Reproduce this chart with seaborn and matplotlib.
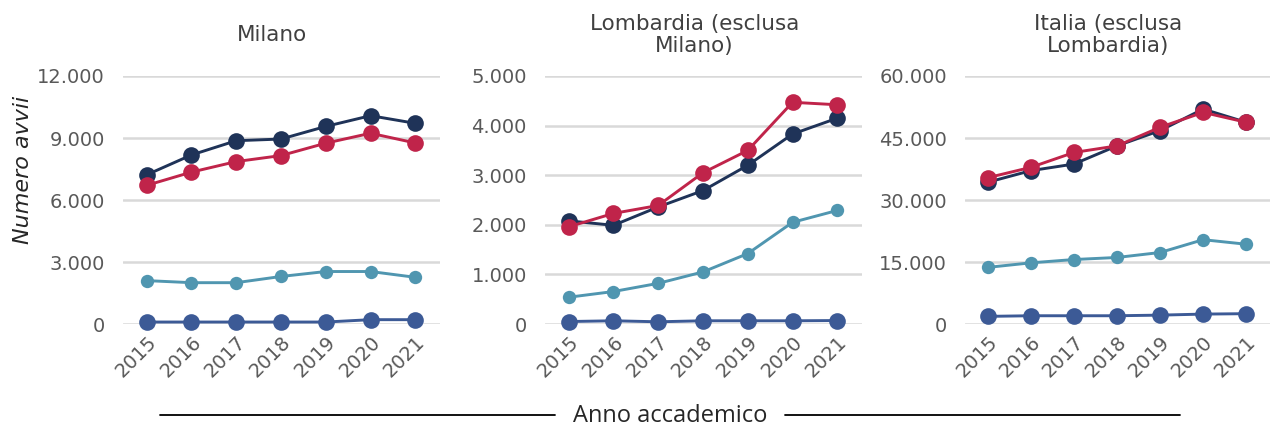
"""
avvii_plot.py
Numero avvii per anno accademico: Milano, Lombardia, Italia.
"""

import pandas as pd
import seaborn as sns
import matplotlib.pyplot as plt
from matplotlib.lines import Line2D
from matplotlib.ticker import FuncFormatter

years = [2015, 2016, 2017, 2018, 2019, 2020, 2021]
series = ["s1", "s2", "s3", "s4"]

milano_s1 = [7220, 8180, 8870, 8950, 9560, 10080, 9710]
milano_s2 = [6710, 7350, 7860, 8150, 8750, 9230, 8760]
milano_s3 = [2100, 2000, 2000, 2300, 2540, 2540, 2260]
milano_s4 = [96, 96, 96, 96, 96, 210, 210]

lomb_s1 = [2080, 1990, 2360, 2690, 3200, 3830, 4150]
lomb_s2 = [1960, 2230, 2390, 3050, 3500, 4470, 4420]
lomb_s3 = [540, 655, 820, 1050, 1420, 2050, 2290]
lomb_s4 = [50, 65, 45, 65, 65, 65, 70]

ita_s1 = [34300, 37100, 38700, 43100, 46800, 52000, 48800]
ita_s2 = [35400, 37900, 41500, 43100, 47600, 51200, 48800]
ita_s3 = [13700, 14800, 15600, 16100, 17300, 20400, 19300]
ita_s4 = [1850, 2000, 2000, 2000, 2150, 2400, 2500]

titles = ["Milano", "Lombardia (esclusa\nMilano)", "Italia (esclusa\nLombardia)"]
yticks = [
    [0, 3000, 6000, 9000, 12000],
    [0, 1000, 2000, 3000, 4000, 5000],
    [0, 15000, 30000, 45000, 60000],
]
panels = [
    [milano_s1, milano_s2, milano_s3, milano_s4],
    [lomb_s1, lomb_s2, lomb_s3, lomb_s4],
    [ita_s1, ita_s2, ita_s3, ita_s4],
]

colors = {"s1": "#1F3358", "s2": "#C0244A", "s3": "#5096B0", "s4": "#3C5A96"}
msize = {"s1": 12, "s2": 12, "s3": 9.6, "s4": 12}
draw_order = ["s4", "s3", "s1", "s2"]

sns.set_theme(style="white")
plt.rcParams["font.family"] = ["DejaVu Sans"]

fig = plt.figure(figsize=(12.73, 4.26), dpi=100)
positions = [
    [0.0966, 0.2394, 0.249, 0.5822],
    [0.4281, 0.2394, 0.249, 0.5822],
    [0.7580, 0.2394, 0.2396, 0.5822],
]

dot_fmt = FuncFormatter(lambda v, p: f"{int(v):,}".replace(",", "."))

for i, pos in enumerate(positions):
    ax = fig.add_axes(pos)
    rows = []
    for name, vals in zip(series, panels[i]):
        for y, v in zip(years, vals):
            rows.append({"anno": y, "serie": name, "valore": v})
    df = pd.DataFrame(rows)

    for name in draw_order:
        sub = df[df["serie"] == name]
        sns.lineplot(data=sub, x="anno", y="valore", color=colors[name],
                     marker="o", markersize=msize[name], markeredgewidth=0,
                     linewidth=2.1, ax=ax, clip_on=False, zorder=3)

    ax.set_xlim(2014.47, 2021.55)
    ax.set_ylim(0, yticks[i][-1])
    ax.set_yticks(yticks[i])
    ax.yaxis.set_major_formatter(dot_fmt)
    ax.set_xticks(years)
    ax.set_xticklabels([str(y) for y in years], rotation=45, ha="right",
                       rotation_mode="anchor")
    ax.tick_params(axis="both", labelsize=14, colors="#595959", length=0)
    ax.tick_params(axis="x", pad=6)
    ax.tick_params(axis="y", pad=13)
    ax.grid(axis="y", color="#D9D9D9", linewidth=1.8)
    ax.set_axisbelow(True)
    for s in ax.spines.values():
        s.set_visible(False)
    ax.set_xlabel("")
    ax.set_ylabel("")

    cx = pos[0] + pos[2] / 2 - 9 / 1273
    fig.text(cx, 1 - 35 / 426, titles[i], fontsize=15.5, color="#404040",
             ha="center", va="center", linespacing=1.1)

fig.text(0.018, 0.60, "Numero avvii", rotation=90, fontsize=16,
         style="italic", color="#262626", ha="center", va="center")

fig.text(670 / 1273, 1 - 416 / 426, "Anno accademico", fontsize=17,
         color="#262626", ha="center", va="center",
         family=["Open Sans", "DejaVu Sans"])
fig.add_artist(Line2D([160 / 1273, 555 / 1273], [1 - 415 / 426] * 2,
                      color="black", linewidth=1.3))
fig.add_artist(Line2D([785 / 1273, 1180 / 1273], [1 - 415 / 426] * 2,
                      color="black", linewidth=1.3))

fig.savefig("out.png", dpi=100)
plt.close()
